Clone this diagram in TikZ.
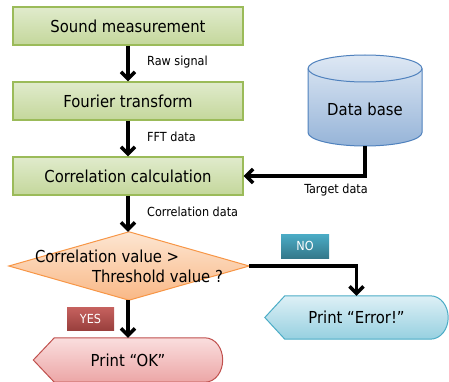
\documentclass[tikz,border=0pt]{standalone}
\usepackage{fontspec}
\setmainfont{DejaVu Sans Condensed}
\usetikzlibrary{arrows.meta,backgrounds}
\definecolor{greenline}{RGB}{155,187,89}
\definecolor{greentop}{RGB}{224,235,204}
\definecolor{greenbot}{RGB}{196,215,155}
\definecolor{orangeline}{RGB}{247,150,70}
\definecolor{orangetop}{RGB}{253,230,210}
\definecolor{orangebot}{RGB}{249,184,134}
\definecolor{blueline}{RGB}{79,129,189}
\definecolor{bluetop}{RGB}{222,232,244}
\definecolor{bluebot}{RGB}{150,180,216}
\definecolor{pinkline}{RGB}{192,80,77}
\definecolor{pinktop}{RGB}{250,222,222}
\definecolor{pinkbot}{RGB}{236,166,166}
\definecolor{cyanline}{RGB}{75,172,198}
\definecolor{cyantop}{RGB}{222,240,246}
\definecolor{cyanbot}{RGB}{150,208,224}
\begin{document}
\begin{tikzpicture}[x=1pt,y=1pt,
    stepbox/.style={draw=greenline,line width=1.2pt,top color=greentop,bottom color=greenbot,
      minimum width=230pt,minimum height=38pt,inner sep=0pt,font=\fontsize{16.5}{19}\selectfont},
    frame/.style={minimum width=#1,inner sep=0pt,font=\fontsize{16.5}{20}\selectfont},
    flow/.style={line width=3.5pt,-{Straight Barb[length=7pt,width=14pt]}},
    note/.style={anchor=west,inner sep=0pt,font=\fontsize{12.5}{14}\selectfont},
    tag/.style={minimum width=47pt,minimum height=23pt,inner sep=0pt,text=white,
      font=\fontsize{12.5}{14}\selectfont}]
  \useasboundingbox (0,0) rectangle (449,-382);
  \node[stepbox] (sound) at (128,-26) {Sound measurement};
  \node[stepbox] (fourier) at (128,-101) {Fourier transform};
  \node[stepbox] (calc) at (128,-176) {Correlation calculation};
  \node[frame=240pt,minimum height=68pt,align=left] (dec) at (129,-266)
    {Correlation value >\\\hspace{57pt}Threshold value ?};
  \node[frame=189pt,minimum height=44pt] (ok) at (128,-360) {Print “OK”};
  \node[frame=183pt,minimum height=43pt] (err) at (356.5,-317.5) {Print “Error!”};
  \node[frame=100pt] (db) at (365,-109) {Data base};
  \coordinate (dbout) at (365,-146);
  \node[tag,top color=pinkline!90,bottom color=pinkline!80!black] (yes) at (90.5,-318.5) {YES};
  \node[tag,minimum width=48pt,minimum height=24pt,top color=cyanline,bottom color=cyanline!70!black] (no) at (305,-246) {NO};
  \node[note] (raw) at (147,-62) {Raw signal};
  \node[note] (fft) at (147,-137) {FFT data};
  \node[note] (corr) at (147,-212) {Correlation data};
  \node[note,anchor=center] (target) at (336,-190) {Target data};
  \begin{scope}[on background layer]
    \draw[orangeline,line width=1pt,top color=orangetop,bottom color=orangebot]
      (dec.north) -- (dec.east) -- (dec.south) -- (dec.west) -- cycle;
    \draw[pinkline,line width=1pt,top color=pinktop,bottom color=pinkbot]
      ([xshift=21pt]ok.north west) -- ([xshift=-18pt]ok.north east) to[out=0,in=90] (ok.east)
      to[out=-90,in=0] ([xshift=-18pt]ok.south east) -- ([xshift=21pt]ok.south west) -- (ok.west) -- cycle;
    \draw[cyanline,line width=1pt,top color=cyantop,bottom color=cyanbot]
      ([xshift=20pt]err.north west) -- ([xshift=-18pt]err.north east) to[out=0,in=90] (err.east)
      to[out=-90,in=0] ([xshift=-18pt]err.south east) -- ([xshift=20pt]err.south west) -- (err.west) -- cycle;
    \draw[blueline,line width=1pt,top color=bluetop,bottom color=bluebot]
      (308,-68.5) -- (308,-132.5) arc[start angle=180,end angle=360,x radius=57,y radius=13.5]
      -- (422,-68.5) arc[start angle=0,end angle=180,x radius=57,y radius=13.5] -- cycle;
    \draw[blueline,line width=1pt]
      (308,-68.5) arc[start angle=180,end angle=360,x radius=57,y radius=13.5];
  \end{scope}
  \draw[flow] (sound) -- (fourier);
  \draw[flow] (fourier) -- (calc);
  \draw[flow] (calc) -- (dec.north -| calc);
  \draw[flow] (dec.south -| calc) -- (ok);
  \draw[flow] (dec.east) -| (err.north);
  \draw[flow] (dbout) |- (calc.east);
\end{tikzpicture}
\end{document}
